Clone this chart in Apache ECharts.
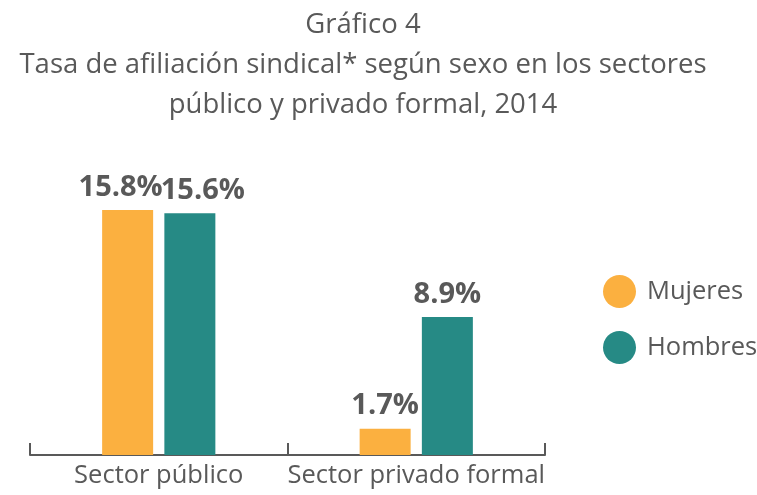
<!DOCTYPE html>
<html><head><meta charset="utf-8">
<script src="https://cdn.jsdelivr.net/npm/echarts@6/dist/echarts.min.js"></script>
<style>html,body{margin:0;padding:0;background:#fff}#c{width:757px;height:495px}</style>
</head><body><div id="c"></div>
<script>
const categories = ['Sector público', 'Sector privado formal'];
const mujeres = [15.8, 1.7];
const hombres = [15.6, 8.9];
const seriesNames = ['Mujeres', 'Hombres'];
const titleLines = ['Gráfico 4', 'Tasa de afiliación sindical* según sexo en los sectores', 'público y privado formal, 2014'];

const font = 'Open Sans';
const chart = echarts.init(document.getElementById('c'));
const lbl = {show: true, position: 'top', distance: 8, formatter: p => p.value.toFixed(1) + '%', fontFamily: font, fontWeight: 'bold', fontSize: 29, color: '#595959'};
// nudge the two overlapping labels of the first category apart, as in the reference
const nudgeM = [[-7, 0], [0, 0]];
const nudgeH = [[13, 0], [0, 0]];
const withNudge = (vals, nudges) => vals.map((v, i) => ({value: v, label: {offset: nudges[i]}}));
chart.setOption({
  animation: false,
  title: {text: titleLines.join('\n'), left: 358, textAlign: 'center', top: 0,
    textStyle: {fontFamily: font, fontWeight: 'normal', fontSize: 27.5, color: '#595959', lineHeight: 40}},
  legend: {orient: 'vertical', left: 598, top: 270, icon: 'circle', itemWidth: 33, itemHeight: 33, itemGap: 23,
    textStyle: {fontFamily: font, fontSize: 25.5, color: '#595959', padding: [0, 0, 0, 6]}, data: seriesNames},
  grid: {left: 30, right: 212, top: 207, bottom: 40},
  xAxis: {type: 'category', data: categories,
    axisLine: {lineStyle: {color: '#595959', width: 2}},
    axisTick: {show: true, interval: 0, inside: true, length: 12, lineStyle: {color: '#595959', width: 2}},
    axisLabel: {interval: 0, fontFamily: font, fontSize: 25.5, color: '#595959', margin: 8}},
  yAxis: {type: 'value', min: 0, max: 16, show: false, splitLine: {show: false}},
  series: [
    {name: seriesNames[0], type: 'bar', data: withNudge(mujeres, nudgeM), barWidth: 51, barGap: '22%', itemStyle: {color: '#FBB040'}, label: lbl},
    {name: seriesNames[1], type: 'bar', data: withNudge(hombres, nudgeH), barWidth: 51, itemStyle: {color: '#268A85'}, label: lbl}
  ]
});
</script></body></html>
